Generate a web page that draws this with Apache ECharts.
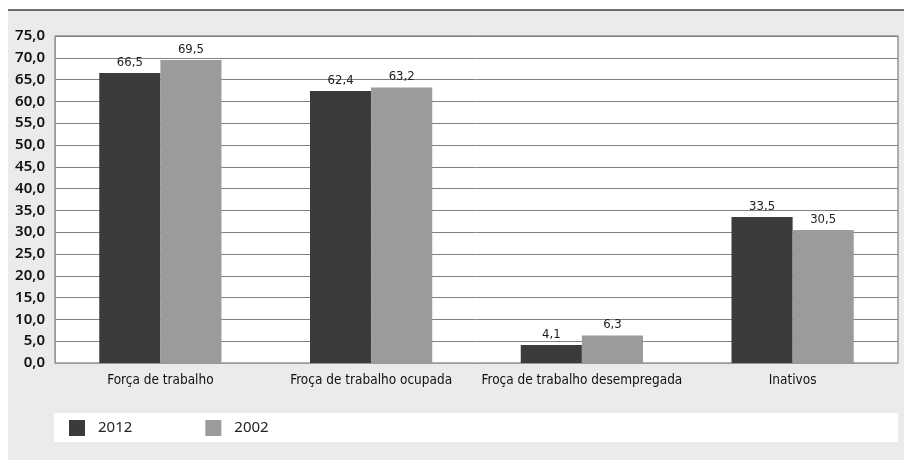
<!DOCTYPE html>
<html>
<head>
<meta charset="utf-8">
<script src="https://cdn.jsdelivr.net/npm/echarts@6/dist/echarts.min.js"></script>
<style>
html,body{margin:0;padding:0;background:#fff;}
#c{width:904px;height:460px;}
</style>
</head>
<body>
<div id="c"></div>
<script>
const categories = ['Força de trabalho', 'Froça de trabalho ocupada', 'Froça de trabalho desempregada', 'Inativos'];
const series2012 = [66.5, 62.4, 4.1, 33.5];
const series2002 = [69.5, 63.2, 6.3, 30.5];
const seriesNames = ['2012', '2002'];
const yMin = 0, yMax = 75, yStep = 5;

const fmt = v => v.toFixed(1).replace('.', ',');
const condensed = '"DejaVu Sans Condensed", "Roboto Condensed", "Liberation Sans Narrow", sans-serif';
const chart = echarts.init(document.getElementById('c'), null, {renderer: 'canvas'});
const labelStyle = {
  show: true, position: 'top', distance: 4,
  fontFamily: condensed, fontSize: 13, color: '#222',
  formatter: p => fmt(p.value)
};
chart.setOption({
  animation: false,
  graphic: [
    {type: 'rect', z: -10, shape: {x: 8, y: 11, width: 896, height: 449}, style: {fill: '#ebebeb'}},
    {type: 'rect', z: -9, shape: {x: 8, y: 9, width: 896, height: 2}, style: {fill: '#6e6e6e'}},
    {type: 'rect', z: -9, shape: {x: 54, y: 413, width: 844, height: 29}, style: {fill: '#ffffff'}},
    {type: 'text', z: -8, left: 56, top: -15, style: {text: '(em %)', fontFamily: 'Noto Sans', fontSize: 15, fill: '#222'}}
  ],
  grid: {left: 55, right: 6, top: 36, bottom: 97, show: true, backgroundColor: '#fff', borderColor: '#666', borderWidth: 1},
  legend: {
    left: 64, top: 415, itemWidth: 16, itemHeight: 16, itemGap: 73,
    icon: 'rect',
    textStyle: {fontFamily: 'Noto Sans', fontSize: 15, color: '#222', padding: [0, 0, 0, 8]},
    data: seriesNames
  },
  xAxis: {
    type: 'category', data: categories,
    axisLine: {show: true, lineStyle: {color: '#999', width: 1}},
    axisTick: {show: false},
    axisLabel: {interval: 0, fontFamily: condensed, fontSize: 13.5, color: '#111', margin: 10}
  },
  yAxis: {
    type: 'value', min: yMin, max: yMax, interval: yStep,
    axisLine: {show: true, lineStyle: {color: '#999', width: 1}},
    axisTick: {show: false},
    splitLine: {lineStyle: {color: '#808080', width: 1}},
    axisLabel: {fontFamily: 'Noto Sans', fontWeight: 600, fontSize: 15, color: '#111', margin: 10, formatter: v => fmt(v)}
  },
  series: [
    {name: seriesNames[0], type: 'bar', data: series2012, barGap: '0%', barCategoryGap: '42%',
     itemStyle: {color: '#3b3b3b'}, label: labelStyle},
    {name: seriesNames[1], type: 'bar', data: series2002, barGap: '0%', barCategoryGap: '42%',
     itemStyle: {color: '#9b9b9b'}, label: labelStyle}
  ]
});
</script>
</body>
</html>
